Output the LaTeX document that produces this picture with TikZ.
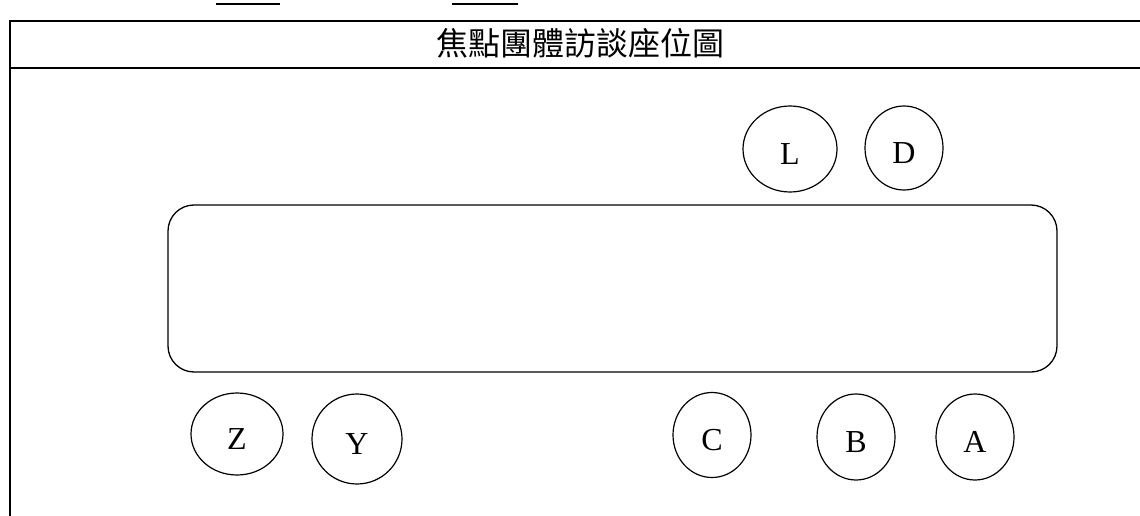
\documentclass[tikz,border=0pt]{standalone}
\usepackage{fontspec}
\setmainfont{Liberation Serif}
\newfontfamily\cjk{Noto Sans CJK TC}
\usetikzlibrary{shapes.geometric}
\tikzset{
  seat/.style={draw, line width=1.2pt, ellipse, inner sep=0pt, text height=31pt, text depth=0pt, font=\fontsize{32}{32}\selectfont},
  frameline/.style={line width=1.6pt},
}
\begin{document}
\begin{tikzpicture}[x=1pt,y=-1pt]
\useasboundingbox (0,0) rectangle (1140,516);
% top cut-off underlines
\draw[line width=1.5pt] (216,4) -- (280,4);
\draw[line width=1.5pt] (452,4) -- (518,4);
% frame
\coordinate (tl) at (10,21);
\coordinate (tr) at (1141,21);
\coordinate (bl) at (10,517);
\draw[frameline] (bl) -- (tl) -- (tr);
\coordinate (sl) at (10,68);
\coordinate (sr) at (1141,68);
\draw[frameline] (sl) -- (sr);
\node[font=\cjk\fontsize{32}{32}\selectfont] (title) at (580,43) {焦點團體訪談座位圖};
% table
\node[draw, line width=1.3pt, rounded corners=26pt, minimum width=889pt, minimum height=167pt] (table) at (612.5,288.5) {};
% seats
\node[seat, minimum width=94pt, minimum height=86pt] (L) at (790,149) {L};
\node[seat, minimum width=78pt, minimum height=84pt] (D) at (904,148) {D};
\node[seat, minimum width=92pt, minimum height=82pt] (Z) at (237,434) {Z};
\node[seat, minimum width=90pt, minimum height=90pt] (Y) at (357,439) {Y};
\node[seat, minimum width=78pt, minimum height=85pt] (C) at (712,435) {C};
\node[seat, minimum width=78pt, minimum height=86pt] (B) at (856,437) {B};
\node[seat, minimum width=78pt, minimum height=86pt] (A) at (975,437) {A};
\end{tikzpicture}
\end{document}
